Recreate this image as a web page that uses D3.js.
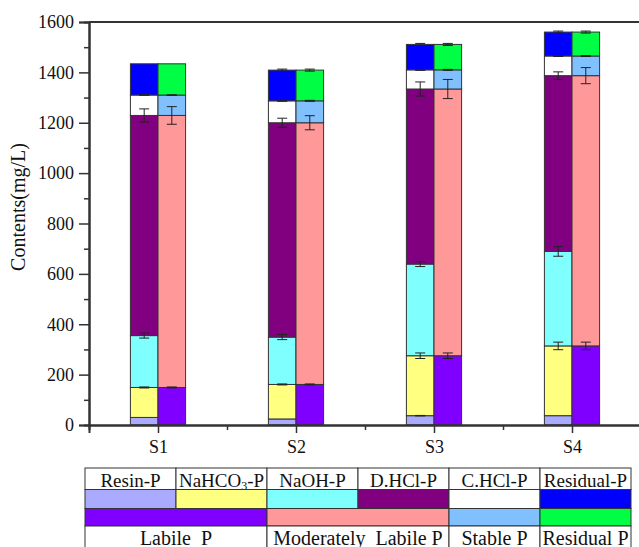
<!DOCTYPE html>
<html>
<head>
<meta charset="utf-8">
<script src="https://cdn.jsdelivr.net/npm/d3@7/dist/d3.min.js"></script>
<style>
body { margin: 0; background: #fff; }
svg text { font-family: "Liberation Serif", "Times New Roman", serif !important; fill: #111; }
</style>
</head>
<body>
<div id="chart"></div>
<script>
// samples and tick labels
var samples = ["S1", "S2", "S3", "S4"];
var yTicks = [0, 200, 400, 600, 800, 1000, 1200, 1400, 1600];

// left bar: P fractions (mg/L)
var fracNames = ["Resin-P", "NaHCO\u2083-P", "NaOH-P", "D.HCl-P", "C.HCl-P", "Residual-P"];
var resinP = [30, 24, 37, 37];
var nahco3P = [119, 137, 238, 277];
var naohP = [206, 188, 364, 375];
var dhclP = [874, 851, 695, 698];
var chclP = [81, 87, 76, 78];
var residualP = [124, 122, 101, 95];

var resinErr = [0, 0, 1, 0];
var nahco3Err = [2, 2, 11, 15];
var naohErr = [10, 10, 10, 19];
var dhclErr = [26, 18, 28, 15];
var chclErr = [1, 2, 2, 2];
var residualErr = [0, 4, 4, 4];

// right bar: pools
var poolNames = ["Labile  P", "Moderately  Labile P", "Stable P", "Residual P"];
var labileP = [149, 161, 275, 314];
var modLabileP = [1080, 1039, 1059, 1073];
var stableP = [81, 87, 76, 78];
var residualPool = [124, 122, 101, 95];

var labileErr = [2, 2, 11, 15];
var modLabileErr = [35, 28, 38, 32];
var stableErr = [1, 2, 2, 2];
var residualPoolErr = [0, 4, 4, 4];

var fracColors = ["#aaaaff", "#ffff80", "#80ffff", "#800080", "#ffffff", "#0000ff"];
var poolColors = ["#8000ff", "#ff9999", "#80c0ff", "#00ff44"];

var width = 639, height = 547;
var serif = "Liberation Serif";

var svg = d3.select("#chart").append("svg")
    .attr("width", width)
    .attr("height", height)
    .attr("font-family", serif);

var x = d3.scaleLinear().domain([0.5, 4.5]).range([89, 641]);
var y = d3.scaleLinear().domain([0, 1600]).range([425, 22]);
var barW = x(1) - x(0.8);

//stack helper
function drawStack(series, errs, colors, offset) {
    samples.forEach(function(s, i) {
        var base = 0;
        series.forEach(function(arr, k) {
            var top = base + arr[i];
            svg.append("rect")
                .attr("x", offset < 0 ? x(i + 1) - barW : x(i + 1))
                .attr("y", y(top))
                .attr("width", barW)
                .attr("height", y(base) - y(top))
                .attr("fill", colors[k])
                .attr("stroke", "#333")
                .attr("stroke-width", 1);
            base = top;
        });
    });
    // error bars on top of each segment
    samples.forEach(function(s, i) {
        var base = 0;
        var cx = x(i + 1) + offset * barW / 2;
        series.forEach(function(arr, k) {
            base += arr[i];
            var e = errs[k][i];
            if (e <= 0) return;
            var g = svg.append("g").attr("stroke", "#222").attr("stroke-width", 1);
            g.append("line").attr("x1", cx).attr("x2", cx).attr("y1", y(base - e)).attr("y2", y(base + e));
            g.append("line").attr("x1", cx - 5).attr("x2", cx + 5).attr("y1", y(base - e)).attr("y2", y(base - e));
            g.append("line").attr("x1", cx - 5).attr("x2", cx + 5).attr("y1", y(base + e)).attr("y2", y(base + e));
        });
    });
}

drawStack([resinP, nahco3P, naohP, dhclP, chclP, residualP],
    [resinErr, nahco3Err, naohErr, dhclErr, chclErr, residualErr], fracColors, -1);
drawStack([labileP, modLabileP, stableP, residualPool],
    [labileErr, modLabileErr, stableErr, residualPoolErr], poolColors, 1);

//axes
var yAxis = d3.axisLeft(y).tickValues(yTicks).tickSize(10).tickPadding(5).tickFormat(d3.format("d"));
var gy = svg.append("g").attr("transform", "translate(89,0)").call(yAxis);
var yMinor = d3.axisLeft(y).tickValues(d3.range(100, 1600, 200)).tickSize(5).tickFormat("");
svg.append("g").attr("transform", "translate(89,0)").call(yMinor);

var xAxis = d3.axisBottom(x).tickValues([1, 2, 3, 4]).tickSize(8).tickPadding(7)
    .tickFormat(function(d) { return samples[d - 1]; });
var gx = svg.append("g").attr("transform", "translate(0,425)").call(xAxis);
var xMinor = d3.axisBottom(x).tickValues([1.5, 2.5, 3.5]).tickSize(5).tickFormat("");
svg.append("g").attr("transform", "translate(0,425)").call(xMinor);

svg.selectAll(".tick text")
    .attr("fill", "#111")
    .style("font-size", "18px")
    .style("font-family", serif);
svg.selectAll(".domain").attr("stroke", "#333").attr("stroke-width", 2);
svg.selectAll(".tick line").attr("stroke", "#333").attr("stroke-width", 1.5);

// top frame line
svg.append("line")
    .attr("x1", 89).attr("x2", 641)
    .attr("y1", y(1600)).attr("y2", y(1600))
    .attr("stroke", "#333").attr("stroke-width", 2);

svg.append("text")
    .attr("transform", "translate(25,207) rotate(-90)")
    .attr("text-anchor", "middle")
    .style("font-size", "20px")
    .text("Contents(mg/L)");

//legend table
var lx = d3.scaleLinear().domain([0, 6]).range([85, 631]);
var rows = [468, 489.5, 508.5, 526, 549];
var lg = svg.append("g");

fracNames.forEach(function(n, k) {
    lg.append("rect").attr("x", lx(k)).attr("y", rows[0])
        .attr("width", lx(1) - lx(0)).attr("height", rows[1] - rows[0])
        .attr("fill", "#fff").attr("stroke", "#333");
    var t = lg.append("text").attr("x", lx(k + 0.5)).attr("y", 487)
        .attr("text-anchor", "middle").style("font-size", "19px");
    if (k == 1) {
        t.append("tspan").text("NaHCO");
        t.append("tspan").attr("dy", 3).style("font-size", "12px").text("3");
        t.append("tspan").attr("dy", -3).text("-P");
    } else {
        t.text(n);
    }
    lg.append("rect").attr("x", lx(k)).attr("y", rows[1])
        .attr("width", lx(1) - lx(0)).attr("height", rows[2] - rows[1])
        .attr("fill", fracColors[k]).attr("stroke", "#333");
});

var poolSpan = [[0, 2], [2, 4], [4, 5], [5, 6]];
poolSpan.forEach(function(sp, k) {
    lg.append("rect").attr("x", lx(sp[0])).attr("y", rows[2])
        .attr("width", lx(sp[1]) - lx(sp[0])).attr("height", rows[3] - rows[2])
        .attr("fill", poolColors[k]).attr("stroke", "#333");
    lg.append("rect").attr("x", lx(sp[0])).attr("y", rows[3])
        .attr("width", lx(sp[1]) - lx(sp[0])).attr("height", rows[4] - rows[3])
        .attr("fill", "#fff").attr("stroke", "#333");
    lg.append("text").attr("x", (lx(sp[0]) + lx(sp[1])) / 2).attr("y", 544.5)
        .attr("text-anchor", "middle").style("font-size", "20px")
        .style("white-space", "pre")
        .text(poolNames[k]);
});
</script>
</body>
</html>
